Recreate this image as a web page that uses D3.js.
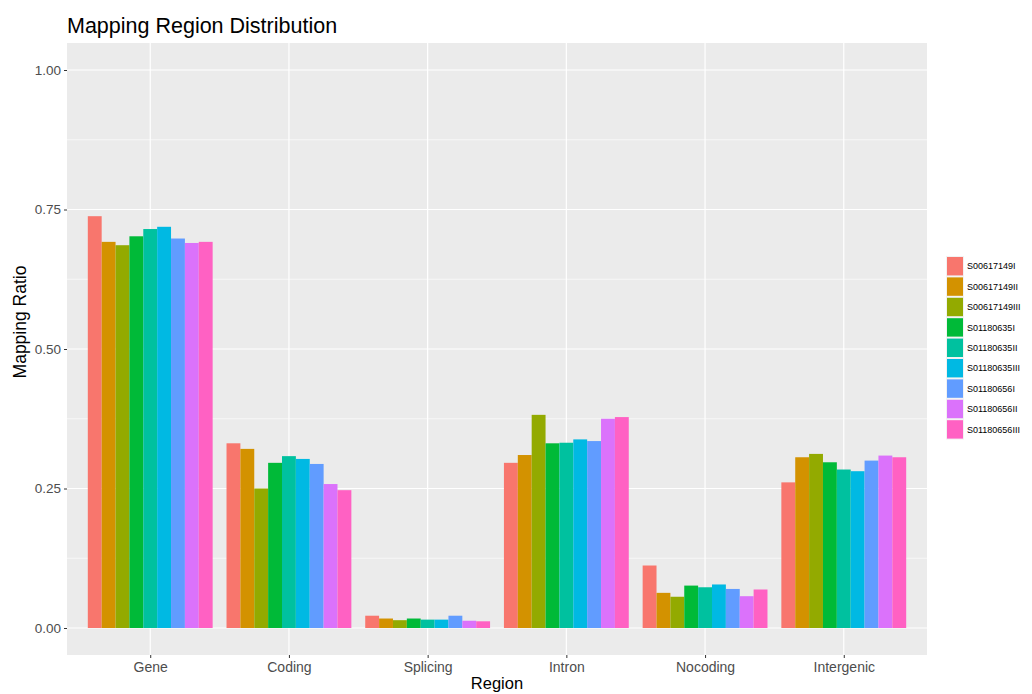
<!DOCTYPE html>
<html>
<head>
<meta charset="utf-8">
<script src="https://cdn.jsdelivr.net/npm/d3@7"></script>
<style>
  html, body { margin: 0; padding: 0; background: #fff; }
  svg { display: block; font-family: "Liberation Sans", Arial, Helvetica, sans-serif; }
</style>
</head>
<body>
<svg id="chart" width="1032" height="694"></svg>
<script>
// Region categories along the x axis
const regions = ["Gene", "Coding", "Splicing", "Intron", "Nocoding", "Intergenic"];

// Samples (one bar per sample in each region)
const samples = ["S00617149I", "S00617149II", "S00617149III",
                 "S01180635I", "S01180635II", "S01180635III",
                 "S01180656I", "S01180656II", "S01180656III"];

// Mapping ratio per region, one value per sample (same order as samples)
const gene       = [0.738, 0.692, 0.686, 0.702, 0.715, 0.719, 0.698, 0.690, 0.692];
const coding     = [0.331, 0.321, 0.250, 0.296, 0.308, 0.303, 0.294, 0.258, 0.247];
const splicing   = [0.022, 0.017, 0.014, 0.017, 0.015, 0.015, 0.022, 0.013, 0.012];
const intron     = [0.296, 0.310, 0.382, 0.331, 0.332, 0.338, 0.335, 0.375, 0.378];
const nocoding   = [0.112, 0.063, 0.056, 0.076, 0.073, 0.078, 0.070, 0.057, 0.069];
const intergenic = [0.261, 0.306, 0.312, 0.297, 0.284, 0.281, 0.300, 0.309, 0.306];

const yTicks = [0, 0.25, 0.5, 0.75, 1.0];
const yMinor = [0.125, 0.375, 0.625, 0.875];

const colors = ["#F8766D", "#D39200", "#93AA00", "#00BA38", "#00C19F",
                "#00B9E3", "#619CFF", "#DB72FB", "#FF61C3"];

const valuesByRegion = [gene, coding, splicing, intron, nocoding, intergenic];
const rows = [];
regions.forEach((r, i) => {
  samples.forEach((s, j) => rows.push({ region: r, sample: s, value: valuesByRegion[i][j] }));
});

const svg = d3.select("#chart");

// Plot panel geometry
const panel = { left: 67, right: 927, top: 43, bottom: 655 };

// Discrete x: 0.6 unit expansion on each side, dodge width 0.9
const x = d3.scalePoint().domain(regions)
  .range([panel.left, panel.right]).padding(0.6);
const step = x.step();
const xInner = d3.scaleBand().domain(samples)
  .range([-0.45 * step, 0.45 * step]).paddingInner(0).paddingOuter(0);

const y = d3.scaleLinear().domain([0, 1]).range([628, 70]);

const color = d3.scaleOrdinal().domain(samples).range(colors);

// Panel background
svg.append("rect")
  .attr("x", panel.left).attr("y", panel.top)
  .attr("width", panel.right - panel.left).attr("height", panel.bottom - panel.top)
  .attr("fill", "#EBEBEB");

const grid = svg.append("g");
// Minor horizontal gridlines
grid.selectAll(".minor").data(yMinor).join("line")
  .attr("x1", panel.left).attr("x2", panel.right)
  .attr("y1", d => y(d)).attr("y2", d => y(d))
  .attr("stroke", "#fff").attr("stroke-width", 0.6);
// Major horizontal gridlines
grid.selectAll(".major").data(yTicks).join("line")
  .attr("x1", panel.left).attr("x2", panel.right)
  .attr("y1", d => y(d)).attr("y2", d => y(d))
  .attr("stroke", "#fff").attr("stroke-width", 1.2);
// Vertical gridlines at categories
grid.selectAll(".vx").data(regions).join("line")
  .attr("x1", d => x(d)).attr("x2", d => x(d))
  .attr("y1", panel.top).attr("y2", panel.bottom)
  .attr("stroke", "#fff").attr("stroke-width", 1.2);

// Bars
svg.append("g").selectAll("rect").data(rows).join("rect")
  .attr("x", d => x(d.region) + xInner(d.sample))
  .attr("width", xInner.bandwidth())
  .attr("y", d => y(d.value))
  .attr("height", d => y(0) - y(d.value))
  .attr("fill", d => color(d.sample));

// Y axis
const yAxis = d3.axisLeft(y).tickValues(yTicks).tickFormat(d3.format(".2f"))
  .tickSize(3).tickPadding(3);
const gy = svg.append("g").attr("transform", `translate(${panel.left},0)`).call(yAxis);
gy.select(".domain").remove();
gy.selectAll(".tick line").attr("stroke", "#333");
gy.selectAll(".tick text").attr("fill", "#4D4D4D").style("font-size", "13.5px");

// X axis
const xAxis = d3.axisBottom(x).tickSize(3).tickPadding(4);
const gx = svg.append("g").attr("transform", `translate(0,${panel.bottom})`).call(xAxis);
gx.select(".domain").remove();
gx.selectAll(".tick line").attr("stroke", "#333");
gx.selectAll(".tick text").attr("fill", "#4D4D4D").style("font-size", "14px");

// Titles
svg.append("text")
  .attr("x", panel.left).attr("y", 33)
  .style("font-size", "21.5px").attr("fill", "#000")
  .text("Mapping Region Distribution");

svg.append("text")
  .attr("x", (panel.left + panel.right) / 2).attr("y", 689)
  .attr("text-anchor", "middle")
  .style("font-size", "16.5px").attr("fill", "#000")
  .text("Region");

svg.append("text")
  .attr("transform", "translate(26,322) rotate(-90)")
  .attr("text-anchor", "middle")
  .style("font-size", "17.5px").attr("fill", "#000")
  .text("Mapping Ratio");

// Legend
const keyH = 20.4, keyW = 18;
const legend = svg.append("g").attr("transform", "translate(946,256)");
const items = legend.selectAll("g").data(samples).join("g")
  .attr("transform", (d, i) => `translate(0,${i * keyH})`);
items.append("rect")
  .attr("width", keyW).attr("height", keyH)
  .attr("fill", "#F2F2F2");
items.append("rect")
  .attr("x", 1).attr("y", 1)
  .attr("width", keyW - 2).attr("height", keyH - 2)
  .attr("fill", d => color(d));
items.append("text")
  .attr("x", keyW + 3).attr("y", keyH / 2)
  .attr("dy", "0.35em")
  .style("font-size", "9px").attr("fill", "#000")
  .text(d => d);
</script>
</body>
</html>
